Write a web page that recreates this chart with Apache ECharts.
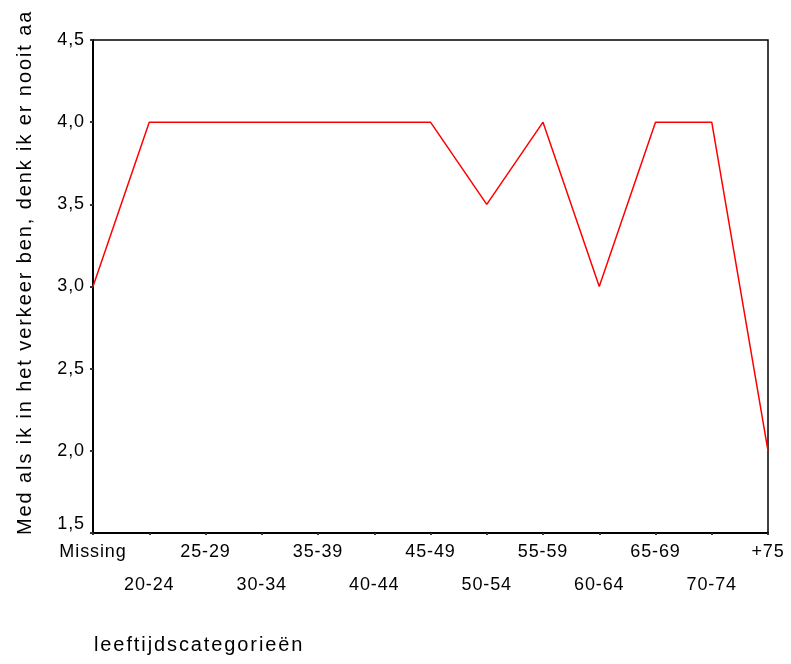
<!DOCTYPE html>
<html><head><meta charset="utf-8">
<script src="https://cdn.jsdelivr.net/npm/echarts@6/dist/echarts.min.js"></script>
<style>html,body{margin:0;padding:0;background:#fff}#c{width:791px;height:664px}</style>
</head><body><div id="c"></div>
<script>
const categories = ['Missing','20-24','25-29','30-34','35-39','40-44','45-49','50-54','55-59','60-64','65-69','70-74','+75'];
const values = [3.0,4.0,4.0,4.0,4.0,4.0,4.0,3.5,4.0,3.0,4.0,4.0,2.0];
const yTicks = [1.5,2.0,2.5,3.0,3.5,4.0,4.5];
const yTitle = 'Med als ik in het verkeer ben, denk ik er nooit aa';
const xTitle = 'leeftijdscategorieën';

// emulate the slightly wide letter spacing of the original rendering
(function(){
  const P = CanvasRenderingContext2D.prototype;
  const d = Object.getOwnPropertyDescriptor(P, 'font');
  if (d && d.set && ('letterSpacing' in P)) {
    Object.defineProperty(P, 'font', {
      configurable: true,
      get(){ return d.get.call(this); },
      set(v){ d.set.call(this, v); this.letterSpacing = /20px/.test(v) ? '1.9px' : '0.9px'; }
    });
  }
})();

const chart = echarts.init(document.getElementById('c'), null, {renderer:'canvas'});
const font = '"Liberation Sans", Arial, sans-serif';
chart.setOption({
  animation:false,
  backgroundColor:'#fff',
  grid:{left:93,right:23,top:40,bottom:131,show:true,borderColor:'#000',borderWidth:1.5,backgroundColor:'transparent'},
  xAxis:{type:'category',data:categories,boundaryGap:false,
    axisLine:{lineStyle:{color:'#000',width:2}},
    axisTick:{show:true,length:2,interval:0,lineStyle:{color:'#333',width:2}},
    axisLabel:{interval:0,color:'#000',fontFamily:font,fontSize:18,margin:3,lineHeight:33,verticalAlign:'top',
      showMinLabel:true,showMaxLabel:true,hideOverlap:false,
      formatter:(v,i)=> (i%2===1 ? '\n'+v : v)},
    splitLine:{show:false}},
  yAxis:{type:'value',min:yTicks[0],max:yTicks[yTicks.length-1],interval:0.5,
    axisLine:{show:true,lineStyle:{color:'#000',width:2}},
    axisTick:{show:true,length:3,lineStyle:{color:'#333',width:2}},
    axisLabel:{color:'#000',fontFamily:font,fontSize:18,margin:8,verticalAlignMinLabel:'bottom',
      formatter:v=>v.toFixed(1).replace('.',',')},
    splitLine:{show:false}},
  graphic:[
    {type:'text',x:25,y:535,rotation:Math.PI/2,style:{text:yTitle,fill:'#000',font:'20px '+font,textAlign:'left',textVerticalAlign:'middle'}},
    {type:'text',x:94,y:645,style:{text:xTitle,fill:'#000',font:'20px '+font,textAlign:'left',textVerticalAlign:'middle'}}
  ],
  series:[{type:'line',data:values,showSymbol:false,symbol:'none',lineStyle:{color:'#ff0000',width:1.5}}]
});
</script></body></html>
